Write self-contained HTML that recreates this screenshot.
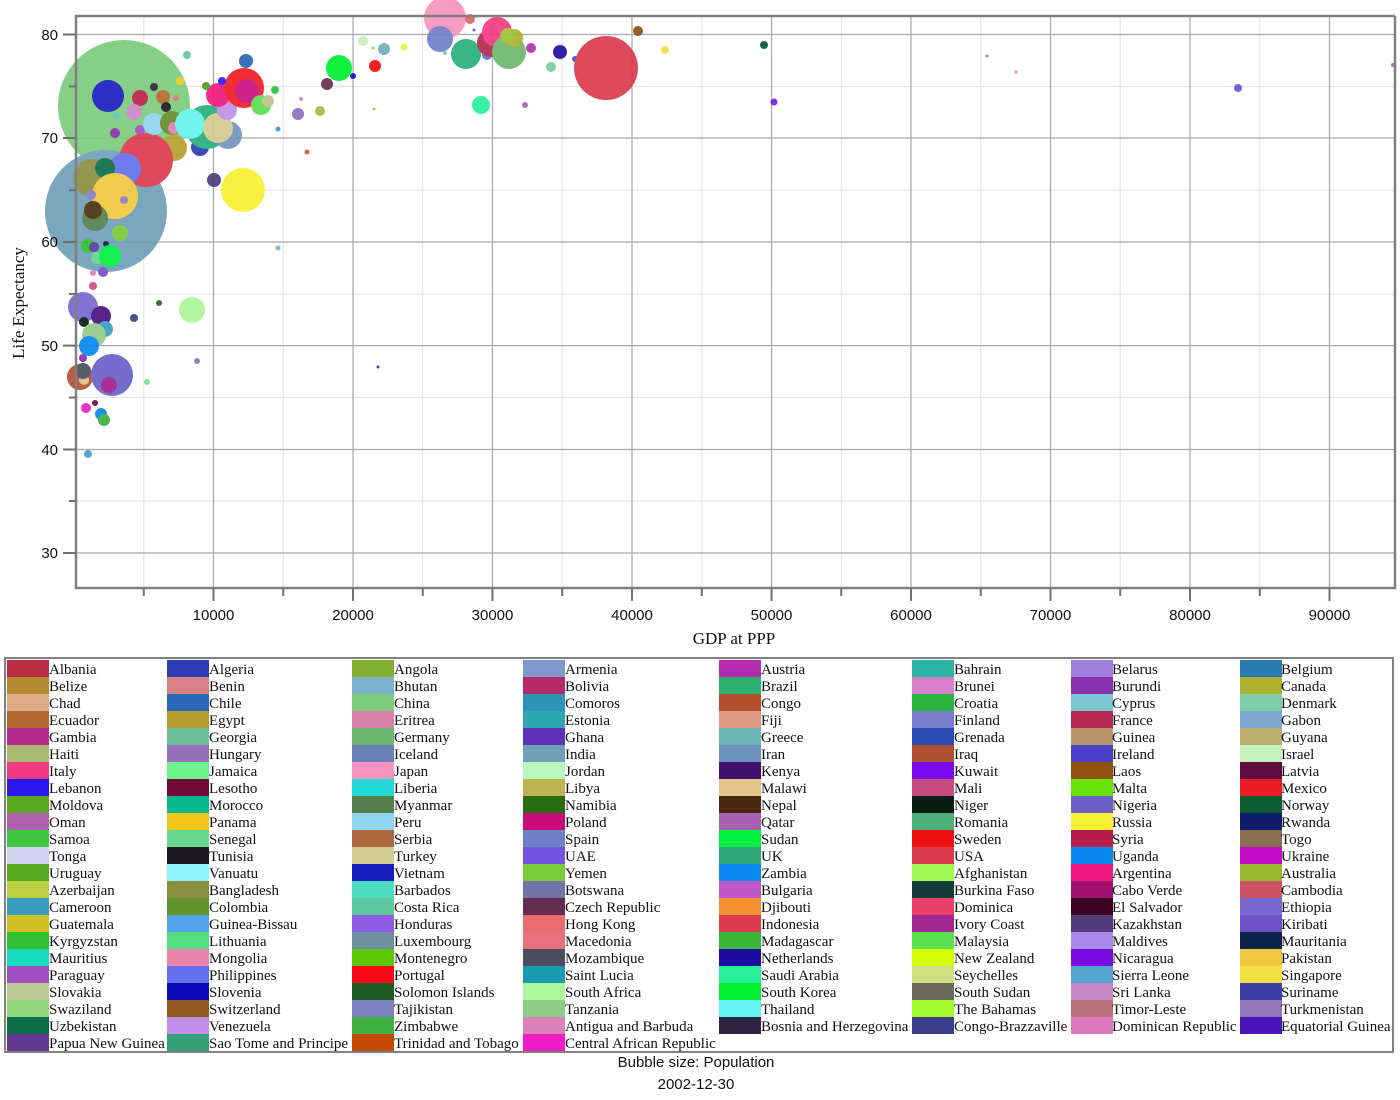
<!DOCTYPE html>
<html><head><meta charset="utf-8"><style>
body{margin:0;background:#fff;width:1400px;height:1100px;overflow:hidden}
svg{display:block}
.t{font-family:"Liberation Sans",sans-serif;font-size:15px;fill:#111}
.l{font-family:"Liberation Serif",serif;font-size:15px;fill:#111}
.a{font-family:"Liberation Serif",serif;font-size:17px;fill:#111}
</style></head><body>
<svg width="1400" height="1100" xmlns="http://www.w3.org/2000/svg">
<g stroke="#e6e6e6" stroke-width="1.2">
<line x1="143.75" y1="16" x2="143.75" y2="588"/><line x1="283.25" y1="16" x2="283.25" y2="588"/><line x1="422.75" y1="16" x2="422.75" y2="588"/><line x1="562.25" y1="16" x2="562.25" y2="588"/><line x1="701.75" y1="16" x2="701.75" y2="588"/><line x1="841.25" y1="16" x2="841.25" y2="588"/><line x1="980.75" y1="16" x2="980.75" y2="588"/><line x1="1120.25" y1="16" x2="1120.25" y2="588"/><line x1="1259.75" y1="16" x2="1259.75" y2="588"/>
<line x1="76" y1="501" x2="1395" y2="501"/><line x1="76" y1="397.5" x2="1395" y2="397.5"/><line x1="76" y1="294" x2="1395" y2="294"/><line x1="76" y1="190" x2="1395" y2="190"/><line x1="76" y1="86.5" x2="1395" y2="86.5"/>
</g>
<g stroke="#a8a8a8" stroke-width="1.2">
<line x1="213.5" y1="16" x2="213.5" y2="588"/><line x1="353" y1="16" x2="353" y2="588"/><line x1="492.5" y1="16" x2="492.5" y2="588"/><line x1="632" y1="16" x2="632" y2="588"/><line x1="771.5" y1="16" x2="771.5" y2="588"/><line x1="911" y1="16" x2="911" y2="588"/><line x1="1050.5" y1="16" x2="1050.5" y2="588"/><line x1="1190" y1="16" x2="1190" y2="588"/><line x1="1329.5" y1="16" x2="1329.5" y2="588"/>
<line x1="76" y1="553" x2="1395" y2="553"/><line x1="76" y1="449.5" x2="1395" y2="449.5"/><line x1="76" y1="345.6" x2="1395" y2="345.6"/><line x1="76" y1="242" x2="1395" y2="242"/><line x1="76" y1="138" x2="1395" y2="138"/><line x1="76" y1="34.5" x2="1395" y2="34.5"/>
</g>
<g opacity="0.92">
<circle cx="124" cy="106" r="66" fill="#7ccc7c"/>
<circle cx="106" cy="211" r="61" fill="#6fa0b8"/>
<circle cx="108" cy="96" r="16" fill="#1a1ec0"/>
<circle cx="140" cy="98" r="8" fill="#c0204c"/>
<circle cx="163" cy="97" r="7" fill="#b46a30"/>
<circle cx="154" cy="87" r="4" fill="#2a2a3a"/>
<circle cx="166" cy="107" r="5" fill="#1e1a24"/>
<circle cx="134" cy="112" r="8" fill="#cc88c8"/>
<circle cx="176" cy="98" r="3" fill="#e07080"/>
<circle cx="180" cy="81" r="4" fill="#f0c820"/>
<circle cx="116" cy="116" r="4" fill="#66c8a8"/>
<circle cx="115" cy="133" r="5" fill="#8830b0"/>
<circle cx="140" cy="130" r="5" fill="#a050c0"/>
<circle cx="174" cy="148" r="13" fill="#b4a030"/>
<circle cx="146" cy="160" r="27" fill="#dc3a4e"/>
<circle cx="154" cy="124" r="11" fill="#90d4f0"/>
<circle cx="172" cy="123" r="12" fill="#658a2a"/>
<circle cx="174" cy="128" r="6" fill="#e080b0"/>
<circle cx="200" cy="147" r="9" fill="#2c3cb4"/>
<circle cx="207" cy="127" r="22" fill="#2ab07a"/>
<circle cx="228" cy="135" r="14" fill="#6f95bc"/>
<circle cx="190" cy="124" r="15" fill="#66f2ee"/>
<circle cx="218" cy="128" r="15" fill="#d4cb92"/>
<circle cx="227" cy="110" r="10" fill="#c090e8"/>
<circle cx="218" cy="95" r="12" fill="#f01880"/>
<circle cx="244" cy="88" r="20" fill="#f01c24"/>
<circle cx="247" cy="91" r="12" fill="#cc1080"/>
<circle cx="92" cy="178" r="19" fill="#8a9040"/>
<circle cx="125" cy="169" r="16" fill="#6470ec"/>
<circle cx="105" cy="168" r="10" fill="#0c6e48"/>
<circle cx="115" cy="196" r="23" fill="#f0c840"/>
<circle cx="124" cy="200" r="4" fill="#9080c0"/>
<circle cx="91" cy="195" r="5" fill="#8080c8"/>
<circle cx="95" cy="218" r="13" fill="#54804e"/>
<circle cx="93" cy="210" r="9" fill="#4a3010"/>
<circle cx="120" cy="233" r="8" fill="#7acc38"/>
<circle cx="88" cy="246" r="7" fill="#30c030"/>
<circle cx="94" cy="247" r="5" fill="#5a3aa0"/>
<circle cx="106" cy="244" r="3" fill="#0c2448"/>
<circle cx="97" cy="258" r="6" fill="#66d488"/>
<circle cx="110" cy="256" r="11" fill="#00f040"/>
<circle cx="103" cy="272" r="5" fill="#7050c8"/>
<circle cx="93" cy="273" r="3" fill="#e080b0"/>
<circle cx="93" cy="286" r="4" fill="#c85080"/>
<circle cx="83" cy="307" r="15" fill="#7868d0"/>
<circle cx="101" cy="316" r="10" fill="#4a1280"/>
<circle cx="84" cy="322" r="5" fill="#0a1e14"/>
<circle cx="105" cy="329" r="8" fill="#38a0c0"/>
<circle cx="94" cy="335" r="12" fill="#90cc88"/>
<circle cx="89" cy="346" r="10" fill="#0a88f0"/>
<circle cx="83" cy="358" r="4" fill="#8830b0"/>
<circle cx="80" cy="377" r="13" fill="#b45030"/>
<circle cx="84" cy="380" r="5" fill="#e0c088"/>
<circle cx="83" cy="371" r="8" fill="#4a5060"/>
<circle cx="112" cy="375" r="21" fill="#6a60c8"/>
<circle cx="109" cy="385" r="8" fill="#a02090"/>
<circle cx="95" cy="403" r="3" fill="#700a38"/>
<circle cx="86" cy="408" r="5" fill="#f01cc8"/>
<circle cx="101" cy="414" r="6" fill="#0a88f0"/>
<circle cx="104" cy="420" r="6" fill="#40b040"/>
<circle cx="88" cy="454" r="4" fill="#50a0d0"/>
<circle cx="147" cy="382" r="3" fill="#80e080"/>
<circle cx="192" cy="310" r="13" fill="#acf59a"/>
<circle cx="159" cy="303" r="3" fill="#2a6a10"/>
<circle cx="134" cy="318" r="4" fill="#404080"/>
<circle cx="197" cy="361" r="3" fill="#8080b0"/>
<circle cx="214" cy="180" r="7" fill="#503c7a"/>
<circle cx="243" cy="190" r="22" fill="#f8f032"/>
<circle cx="187" cy="55" r="4" fill="#66c8a8"/>
<circle cx="246" cy="61" r="7" fill="#2d66b8"/>
<circle cx="206" cy="86" r="4" fill="#4aa018"/>
<circle cx="222" cy="81" r="4" fill="#2020f0"/>
<circle cx="275" cy="90" r="4" fill="#30c040"/>
<circle cx="261" cy="105" r="10" fill="#5ae050"/>
<circle cx="268" cy="101" r="6" fill="#c0c090"/>
<circle cx="278" cy="129" r="2.5" fill="#30a0c0"/>
<circle cx="307" cy="152" r="2.5" fill="#d06020"/>
<circle cx="298" cy="114" r="6" fill="#9070c0"/>
<circle cx="320" cy="111" r="5" fill="#b0b040"/>
<circle cx="327" cy="84" r="6" fill="#6a3050"/>
<circle cx="339" cy="68" r="13" fill="#00f030"/>
<circle cx="353" cy="76" r="3" fill="#1010c0"/>
<circle cx="363" cy="41" r="5" fill="#c8f0b8"/>
<circle cx="375" cy="66" r="6" fill="#f01010"/>
<circle cx="384" cy="49" r="6" fill="#6fb0b8"/>
<circle cx="404" cy="47" r="3.5" fill="#e8f040"/>
<circle cx="373" cy="48" r="1.5" fill="#80e020"/>
<circle cx="374" cy="109" r="1.5" fill="#80e020"/>
<circle cx="301" cy="99" r="2" fill="#e080c0"/>
<circle cx="278" cy="248" r="2.5" fill="#80b0d8"/>
<circle cx="378" cy="367" r="1.5" fill="#3030c0"/>
<circle cx="445" cy="18" r="21" fill="#f894c0"/>
<circle cx="470" cy="19" r="5" fill="#e86060"/>
<circle cx="474" cy="30" r="1.5" fill="#5060c0"/>
<circle cx="440" cy="39" r="13" fill="#7080c8"/>
<circle cx="445" cy="53" r="2" fill="#80c0d0"/>
<circle cx="466" cy="54" r="15" fill="#2ab07a"/>
<circle cx="487" cy="55" r="5" fill="#6070d0"/>
<circle cx="491" cy="43" r="14" fill="#b42a50"/>
<circle cx="497" cy="32" r="15" fill="#f53a82"/>
<circle cx="509" cy="52" r="17" fill="#6fb870"/>
<circle cx="514" cy="38" r="9" fill="#b0b030"/>
<circle cx="508" cy="36" r="8" fill="#a0c030"/>
<circle cx="531" cy="48" r="5" fill="#b030b0"/>
<circle cx="560" cy="52" r="7" fill="#2010a0"/>
<circle cx="551" cy="67" r="5" fill="#7ccca0"/>
<circle cx="575" cy="59" r="3" fill="#4050d0"/>
<circle cx="606" cy="68" r="32" fill="#dc3a4e"/>
<circle cx="638" cy="31" r="5" fill="#8a5018"/>
<circle cx="665" cy="50" r="4" fill="#f0e040"/>
<circle cx="481" cy="105" r="9" fill="#28f09a"/>
<circle cx="525" cy="105" r="3" fill="#b060b8"/>
<circle cx="764" cy="45" r="4" fill="#0a5a30"/>
<circle cx="774" cy="102" r="3.5" fill="#7020f0"/>
<circle cx="987" cy="56" r="1.5" fill="#6090a0"/>
<circle cx="1016" cy="72" r="1.5" fill="#e080d0"/>
<circle cx="1238" cy="88" r="4" fill="#7050e0"/>
<circle cx="1393" cy="65" r="2" fill="#b060b8"/>
</g>
<g stroke="#808080" stroke-width="2.5" fill="none">
<polyline points="1395,16 76,16 76,588 1395,588 1395,16"/>
</g>
<g stroke="#707070" stroke-width="2">
<line x1="63" y1="553" x2="76" y2="553"/><line x1="63" y1="449.5" x2="76" y2="449.5"/><line x1="63" y1="345.6" x2="76" y2="345.6"/><line x1="63" y1="242" x2="76" y2="242"/><line x1="63" y1="138" x2="76" y2="138"/><line x1="63" y1="34.5" x2="76" y2="34.5"/>
<line x1="69" y1="501" x2="76" y2="501"/><line x1="69" y1="397.5" x2="76" y2="397.5"/><line x1="69" y1="294" x2="76" y2="294"/><line x1="69" y1="190" x2="76" y2="190"/><line x1="69" y1="86.5" x2="76" y2="86.5"/>
<line x1="213.5" y1="588" x2="213.5" y2="601"/><line x1="353" y1="588" x2="353" y2="601"/><line x1="492.5" y1="588" x2="492.5" y2="601"/><line x1="632" y1="588" x2="632" y2="601"/><line x1="771.5" y1="588" x2="771.5" y2="601"/><line x1="911" y1="588" x2="911" y2="601"/><line x1="1050.5" y1="588" x2="1050.5" y2="601"/><line x1="1190" y1="588" x2="1190" y2="601"/><line x1="1329.5" y1="588" x2="1329.5" y2="601"/>
<line x1="143.75" y1="588" x2="143.75" y2="596"/><line x1="283.25" y1="588" x2="283.25" y2="596"/><line x1="422.75" y1="588" x2="422.75" y2="596"/><line x1="562.25" y1="588" x2="562.25" y2="596"/><line x1="701.75" y1="588" x2="701.75" y2="596"/><line x1="841.25" y1="588" x2="841.25" y2="596"/><line x1="980.75" y1="588" x2="980.75" y2="596"/><line x1="1120.25" y1="588" x2="1120.25" y2="596"/><line x1="1259.75" y1="588" x2="1259.75" y2="596"/>
</g>
<g class="t" text-anchor="end">
<text x="58" y="558">30</text><text x="58" y="455">40</text><text x="58" y="351">50</text><text x="58" y="247">60</text><text x="58" y="143">70</text><text x="58" y="40">80</text>
</g>
<g class="t" text-anchor="middle">
<text x="213.5" y="620">10000</text><text x="353" y="620">20000</text><text x="492.5" y="620">30000</text><text x="632" y="620">40000</text><text x="771.5" y="620">50000</text><text x="911" y="620">60000</text><text x="1050.5" y="620">70000</text><text x="1190" y="620">80000</text><text x="1329.5" y="620">90000</text>
<text x="696" y="1067">Bubble size: Population</text>
<text x="696" y="1089">2002-12-30</text>
</g>
<text class="a" x="734" y="644" text-anchor="middle">GDP at PPP</text>
<text class="a" x="0" y="0" text-anchor="middle" transform="translate(24,303) rotate(-90)">Life Expectancy</text>
<rect x="5" y="658" width="1388" height="394" fill="none" stroke="#808080" stroke-width="2"/>
<g>
<rect x="7" y="660" width="42" height="17" fill="#b82d42"/><rect x="7" y="677" width="42" height="17" fill="#b48a30"/><rect x="7" y="694" width="42" height="17" fill="#dcaa84"/><rect x="7" y="711" width="42" height="17" fill="#b46a30"/><rect x="7" y="728" width="42" height="17" fill="#b42a8a"/><rect x="7" y="745" width="42" height="17" fill="#aab870"/><rect x="7" y="762" width="42" height="17" fill="#f23a82"/><rect x="7" y="779" width="42" height="17" fill="#2a1af0"/><rect x="7" y="796" width="42" height="17" fill="#58a820"/><rect x="7" y="813" width="42" height="17" fill="#b060b0"/><rect x="7" y="830" width="42" height="17" fill="#3ec840"/><rect x="7" y="847" width="42" height="17" fill="#d0d4f0"/><rect x="7" y="864" width="42" height="17" fill="#58a820"/><rect x="7" y="881" width="42" height="17" fill="#bcd040"/><rect x="7" y="898" width="42" height="17" fill="#389cc0"/><rect x="7" y="915" width="42" height="17" fill="#d0c020"/><rect x="7" y="932" width="42" height="17" fill="#30c030"/><rect x="7" y="949" width="42" height="17" fill="#18dcc0"/><rect x="7" y="966" width="42" height="17" fill="#a050c0"/><rect x="7" y="983" width="42" height="17" fill="#bcc898"/><rect x="7" y="1000" width="42" height="17" fill="#90d47a"/><rect x="7" y="1017" width="42" height="17" fill="#0c6e48"/><rect x="7" y="1034" width="42" height="17" fill="#603890"/>
<rect x="167" y="660" width="42" height="17" fill="#2c3cb4"/><rect x="167" y="677" width="42" height="17" fill="#d88088"/><rect x="167" y="694" width="42" height="17" fill="#2c68b8"/><rect x="167" y="711" width="42" height="17" fill="#b49c2c"/><rect x="167" y="728" width="42" height="17" fill="#6cbc98"/><rect x="167" y="745" width="42" height="17" fill="#9670b8"/><rect x="167" y="762" width="42" height="17" fill="#6cf48c"/><rect x="167" y="779" width="42" height="17" fill="#700a38"/><rect x="167" y="796" width="42" height="17" fill="#0ab890"/><rect x="167" y="813" width="42" height="17" fill="#f4c818"/><rect x="167" y="830" width="42" height="17" fill="#68d88c"/><rect x="167" y="847" width="42" height="17" fill="#1e1a24"/><rect x="167" y="864" width="42" height="17" fill="#90f4fc"/><rect x="167" y="881" width="42" height="17" fill="#8a9040"/><rect x="167" y="898" width="42" height="17" fill="#62922a"/><rect x="167" y="915" width="42" height="17" fill="#54a4ec"/><rect x="167" y="932" width="42" height="17" fill="#54e080"/><rect x="167" y="949" width="42" height="17" fill="#ea84a8"/><rect x="167" y="966" width="42" height="17" fill="#6470ec"/><rect x="167" y="983" width="42" height="17" fill="#0c0cbc"/><rect x="167" y="1000" width="42" height="17" fill="#905820"/><rect x="167" y="1017" width="42" height="17" fill="#c090e8"/><rect x="167" y="1034" width="42" height="17" fill="#34a078"/>
<rect x="352" y="660" width="42" height="17" fill="#82b030"/><rect x="352" y="677" width="42" height="17" fill="#7cb4d0"/><rect x="352" y="694" width="42" height="17" fill="#7ccc7c"/><rect x="352" y="711" width="42" height="17" fill="#d880a8"/><rect x="352" y="728" width="42" height="17" fill="#6cb870"/><rect x="352" y="745" width="42" height="17" fill="#6c80b8"/><rect x="352" y="762" width="42" height="17" fill="#f894c0"/><rect x="352" y="779" width="42" height="17" fill="#24d8d8"/><rect x="352" y="796" width="42" height="17" fill="#54804e"/><rect x="352" y="813" width="42" height="17" fill="#90d4f0"/><rect x="352" y="830" width="42" height="17" fill="#b06a40"/><rect x="352" y="847" width="42" height="17" fill="#d4cc92"/><rect x="352" y="864" width="42" height="17" fill="#1a1ec0"/><rect x="352" y="881" width="42" height="17" fill="#4cdcc0"/><rect x="352" y="898" width="42" height="17" fill="#5cc8a0"/><rect x="352" y="915" width="42" height="17" fill="#905ce4"/><rect x="352" y="932" width="42" height="17" fill="#6c90a0"/><rect x="352" y="949" width="42" height="17" fill="#5cc800"/><rect x="352" y="966" width="42" height="17" fill="#fc0818"/><rect x="352" y="983" width="42" height="17" fill="#1c5c24"/><rect x="352" y="1000" width="42" height="17" fill="#7c80c0"/><rect x="352" y="1017" width="42" height="17" fill="#40b040"/><rect x="352" y="1034" width="42" height="17" fill="#c44a04"/>
<rect x="523" y="660" width="42" height="17" fill="#7c98cc"/><rect x="523" y="677" width="42" height="17" fill="#b42a68"/><rect x="523" y="694" width="42" height="17" fill="#2c94b4"/><rect x="523" y="711" width="42" height="17" fill="#2ca8b4"/><rect x="523" y="728" width="42" height="17" fill="#6030b8"/><rect x="523" y="745" width="42" height="17" fill="#70a0b8"/><rect x="523" y="762" width="42" height="17" fill="#b8f8bc"/><rect x="523" y="779" width="42" height="17" fill="#bcb450"/><rect x="523" y="796" width="42" height="17" fill="#286c10"/><rect x="523" y="813" width="42" height="17" fill="#c80c78"/><rect x="523" y="830" width="42" height="17" fill="#7080c8"/><rect x="523" y="847" width="42" height="17" fill="#7454e0"/><rect x="523" y="864" width="42" height="17" fill="#7ccc38"/><rect x="523" y="881" width="42" height="17" fill="#7474a8"/><rect x="523" y="898" width="42" height="17" fill="#682c50"/><rect x="523" y="915" width="42" height="17" fill="#ea6c6c"/><rect x="523" y="932" width="42" height="17" fill="#ea7080"/><rect x="523" y="949" width="42" height="17" fill="#4a4c60"/><rect x="523" y="966" width="42" height="17" fill="#189cb0"/><rect x="523" y="983" width="42" height="17" fill="#acf89c"/><rect x="523" y="1000" width="42" height="17" fill="#90cc88"/><rect x="523" y="1017" width="42" height="17" fill="#dc80bc"/><rect x="523" y="1034" width="42" height="17" fill="#f01cc8"/>
<rect x="719" y="660" width="42" height="17" fill="#b42cb0"/><rect x="719" y="677" width="42" height="17" fill="#2cb070"/><rect x="719" y="694" width="42" height="17" fill="#b45030"/><rect x="719" y="711" width="42" height="17" fill="#dc9880"/><rect x="719" y="728" width="42" height="17" fill="#6cb4b8"/><rect x="719" y="745" width="42" height="17" fill="#6c94bc"/><rect x="719" y="762" width="42" height="17" fill="#401070"/><rect x="719" y="779" width="42" height="17" fill="#e4c488"/><rect x="719" y="796" width="42" height="17" fill="#4a2810"/><rect x="719" y="813" width="42" height="17" fill="#a860b0"/><rect x="719" y="830" width="42" height="17" fill="#00f040"/><rect x="719" y="847" width="42" height="17" fill="#2ca878"/><rect x="719" y="864" width="42" height="17" fill="#0c88f0"/><rect x="719" y="881" width="42" height="17" fill="#c058c8"/><rect x="719" y="898" width="42" height="17" fill="#f49030"/><rect x="719" y="915" width="42" height="17" fill="#dc3a4e"/><rect x="719" y="932" width="42" height="17" fill="#3cb838"/><rect x="719" y="949" width="42" height="17" fill="#1c0ca0"/><rect x="719" y="966" width="42" height="17" fill="#28f09a"/><rect x="719" y="983" width="42" height="17" fill="#00f030"/><rect x="719" y="1000" width="42" height="17" fill="#66f4f0"/><rect x="719" y="1017" width="42" height="17" fill="#2c2440"/>
<rect x="912" y="660" width="42" height="17" fill="#2cb4a4"/><rect x="912" y="677" width="42" height="17" fill="#d880cc"/><rect x="912" y="694" width="42" height="17" fill="#2cb440"/><rect x="912" y="711" width="42" height="17" fill="#7c7ccc"/><rect x="912" y="728" width="42" height="17" fill="#2c4cb4"/><rect x="912" y="745" width="42" height="17" fill="#b05030"/><rect x="912" y="762" width="42" height="17" fill="#7c0cf0"/><rect x="912" y="779" width="42" height="17" fill="#c84c80"/><rect x="912" y="796" width="42" height="17" fill="#0a1e14"/><rect x="912" y="813" width="42" height="17" fill="#4cb07c"/><rect x="912" y="830" width="42" height="17" fill="#ec1010"/><rect x="912" y="847" width="42" height="17" fill="#dc3a4e"/><rect x="912" y="864" width="42" height="17" fill="#a0f850"/><rect x="912" y="881" width="42" height="17" fill="#143c38"/><rect x="912" y="898" width="42" height="17" fill="#e84068"/><rect x="912" y="915" width="42" height="17" fill="#a02890"/><rect x="912" y="932" width="42" height="17" fill="#5ce050"/><rect x="912" y="949" width="42" height="17" fill="#d4fc04"/><rect x="912" y="966" width="42" height="17" fill="#d0e080"/><rect x="912" y="983" width="42" height="17" fill="#6c6c5c"/><rect x="912" y="1000" width="42" height="17" fill="#a0fc2c"/><rect x="912" y="1017" width="42" height="17" fill="#3c3c8c"/>
<rect x="1071" y="660" width="42" height="17" fill="#a080dc"/><rect x="1071" y="677" width="42" height="17" fill="#8830b0"/><rect x="1071" y="694" width="42" height="17" fill="#7cc8d0"/><rect x="1071" y="711" width="42" height="17" fill="#b42a50"/><rect x="1071" y="728" width="42" height="17" fill="#b8946c"/><rect x="1071" y="745" width="42" height="17" fill="#4c40c8"/><rect x="1071" y="762" width="42" height="17" fill="#905410"/><rect x="1071" y="779" width="42" height="17" fill="#68e40c"/><rect x="1071" y="796" width="42" height="17" fill="#6a60c8"/><rect x="1071" y="813" width="42" height="17" fill="#f8f032"/><rect x="1071" y="830" width="42" height="17" fill="#b81c48"/><rect x="1071" y="847" width="42" height="17" fill="#0a88f0"/><rect x="1071" y="864" width="42" height="17" fill="#f01880"/><rect x="1071" y="881" width="42" height="17" fill="#a01070"/><rect x="1071" y="898" width="42" height="17" fill="#3c0420"/><rect x="1071" y="915" width="42" height="17" fill="#503c7c"/><rect x="1071" y="932" width="42" height="17" fill="#a888e8"/><rect x="1071" y="949" width="42" height="17" fill="#780ce0"/><rect x="1071" y="966" width="42" height="17" fill="#54a4d0"/><rect x="1071" y="983" width="42" height="17" fill="#c888c8"/><rect x="1071" y="1000" width="42" height="17" fill="#b87078"/><rect x="1071" y="1017" width="42" height="17" fill="#dc78c0"/>
<rect x="1240" y="660" width="42" height="17" fill="#2c7cb4"/><rect x="1240" y="677" width="42" height="17" fill="#b0b030"/><rect x="1240" y="694" width="42" height="17" fill="#7cd0a8"/><rect x="1240" y="711" width="42" height="17" fill="#7ca8d0"/><rect x="1240" y="728" width="42" height="17" fill="#bcac70"/><rect x="1240" y="745" width="42" height="17" fill="#c4f4bc"/><rect x="1240" y="762" width="42" height="17" fill="#600c40"/><rect x="1240" y="779" width="42" height="17" fill="#ec1c24"/><rect x="1240" y="796" width="42" height="17" fill="#0c5c30"/><rect x="1240" y="813" width="42" height="17" fill="#101c6c"/><rect x="1240" y="830" width="42" height="17" fill="#8a7050"/><rect x="1240" y="847" width="42" height="17" fill="#c40cc8"/><rect x="1240" y="864" width="42" height="17" fill="#98b830"/><rect x="1240" y="881" width="42" height="17" fill="#cc5464"/><rect x="1240" y="898" width="42" height="17" fill="#7868d0"/><rect x="1240" y="915" width="42" height="17" fill="#7050c8"/><rect x="1240" y="932" width="42" height="17" fill="#0c2448"/><rect x="1240" y="949" width="42" height="17" fill="#f0c840"/><rect x="1240" y="966" width="42" height="17" fill="#f0e040"/><rect x="1240" y="983" width="42" height="17" fill="#3c40a8"/><rect x="1240" y="1000" width="42" height="17" fill="#9078b8"/><rect x="1240" y="1017" width="42" height="17" fill="#4c14b8"/>
</g>
<g class="l">
<text x="49" y="674">Albania</text><text x="49" y="691">Belize</text><text x="49" y="708">Chad</text><text x="49" y="725">Ecuador</text><text x="49" y="742">Gambia</text><text x="49" y="759">Haiti</text><text x="49" y="776">Italy</text><text x="49" y="793">Lebanon</text><text x="49" y="810">Moldova</text><text x="49" y="827">Oman</text><text x="49" y="844">Samoa</text><text x="49" y="861">Tonga</text><text x="49" y="878">Uruguay</text><text x="49" y="895">Azerbaijan</text><text x="49" y="912">Cameroon</text><text x="49" y="929">Guatemala</text><text x="49" y="946">Kyrgyzstan</text><text x="49" y="963">Mauritius</text><text x="49" y="980">Paraguay</text><text x="49" y="997">Slovakia</text><text x="49" y="1014">Swaziland</text><text x="49" y="1031">Uzbekistan</text><text x="49" y="1048">Papua New Guinea</text>
<text x="209" y="674">Algeria</text><text x="209" y="691">Benin</text><text x="209" y="708">Chile</text><text x="209" y="725">Egypt</text><text x="209" y="742">Georgia</text><text x="209" y="759">Hungary</text><text x="209" y="776">Jamaica</text><text x="209" y="793">Lesotho</text><text x="209" y="810">Morocco</text><text x="209" y="827">Panama</text><text x="209" y="844">Senegal</text><text x="209" y="861">Tunisia</text><text x="209" y="878">Vanuatu</text><text x="209" y="895">Bangladesh</text><text x="209" y="912">Colombia</text><text x="209" y="929">Guinea-Bissau</text><text x="209" y="946">Lithuania</text><text x="209" y="963">Mongolia</text><text x="209" y="980">Philippines</text><text x="209" y="997">Slovenia</text><text x="209" y="1014">Switzerland</text><text x="209" y="1031">Venezuela</text><text x="209" y="1048">Sao Tome and Principe</text>
<text x="394" y="674">Angola</text><text x="394" y="691">Bhutan</text><text x="394" y="708">China</text><text x="394" y="725">Eritrea</text><text x="394" y="742">Germany</text><text x="394" y="759">Iceland</text><text x="394" y="776">Japan</text><text x="394" y="793">Liberia</text><text x="394" y="810">Myanmar</text><text x="394" y="827">Peru</text><text x="394" y="844">Serbia</text><text x="394" y="861">Turkey</text><text x="394" y="878">Vietnam</text><text x="394" y="895">Barbados</text><text x="394" y="912">Costa Rica</text><text x="394" y="929">Honduras</text><text x="394" y="946">Luxembourg</text><text x="394" y="963">Montenegro</text><text x="394" y="980">Portugal</text><text x="394" y="997">Solomon Islands</text><text x="394" y="1014">Tajikistan</text><text x="394" y="1031">Zimbabwe</text><text x="394" y="1048">Trinidad and Tobago</text>
<text x="565" y="674">Armenia</text><text x="565" y="691">Bolivia</text><text x="565" y="708">Comoros</text><text x="565" y="725">Estonia</text><text x="565" y="742">Ghana</text><text x="565" y="759">India</text><text x="565" y="776">Jordan</text><text x="565" y="793">Libya</text><text x="565" y="810">Namibia</text><text x="565" y="827">Poland</text><text x="565" y="844">Spain</text><text x="565" y="861">UAE</text><text x="565" y="878">Yemen</text><text x="565" y="895">Botswana</text><text x="565" y="912">Czech Republic</text><text x="565" y="929">Hong Kong</text><text x="565" y="946">Macedonia</text><text x="565" y="963">Mozambique</text><text x="565" y="980">Saint Lucia</text><text x="565" y="997">South Africa</text><text x="565" y="1014">Tanzania</text><text x="565" y="1031">Antigua and Barbuda</text><text x="565" y="1048">Central African Republic</text>
<text x="761" y="674">Austria</text><text x="761" y="691">Brazil</text><text x="761" y="708">Congo</text><text x="761" y="725">Fiji</text><text x="761" y="742">Greece</text><text x="761" y="759">Iran</text><text x="761" y="776">Kenya</text><text x="761" y="793">Malawi</text><text x="761" y="810">Nepal</text><text x="761" y="827">Qatar</text><text x="761" y="844">Sudan</text><text x="761" y="861">UK</text><text x="761" y="878">Zambia</text><text x="761" y="895">Bulgaria</text><text x="761" y="912">Djibouti</text><text x="761" y="929">Indonesia</text><text x="761" y="946">Madagascar</text><text x="761" y="963">Netherlands</text><text x="761" y="980">Saudi Arabia</text><text x="761" y="997">South Korea</text><text x="761" y="1014">Thailand</text><text x="761" y="1031">Bosnia and Herzegovina</text>
<text x="954" y="674">Bahrain</text><text x="954" y="691">Brunei</text><text x="954" y="708">Croatia</text><text x="954" y="725">Finland</text><text x="954" y="742">Grenada</text><text x="954" y="759">Iraq</text><text x="954" y="776">Kuwait</text><text x="954" y="793">Mali</text><text x="954" y="810">Niger</text><text x="954" y="827">Romania</text><text x="954" y="844">Sweden</text><text x="954" y="861">USA</text><text x="954" y="878">Afghanistan</text><text x="954" y="895">Burkina Faso</text><text x="954" y="912">Dominica</text><text x="954" y="929">Ivory Coast</text><text x="954" y="946">Malaysia</text><text x="954" y="963">New Zealand</text><text x="954" y="980">Seychelles</text><text x="954" y="997">South Sudan</text><text x="954" y="1014">The Bahamas</text><text x="954" y="1031">Congo-Brazzaville</text>
<text x="1112" y="674">Belarus</text><text x="1112" y="691">Burundi</text><text x="1112" y="708">Cyprus</text><text x="1112" y="725">France</text><text x="1112" y="742">Guinea</text><text x="1112" y="759">Ireland</text><text x="1112" y="776">Laos</text><text x="1112" y="793">Malta</text><text x="1112" y="810">Nigeria</text><text x="1112" y="827">Russia</text><text x="1112" y="844">Syria</text><text x="1112" y="861">Uganda</text><text x="1112" y="878">Argentina</text><text x="1112" y="895">Cabo Verde</text><text x="1112" y="912">El Salvador</text><text x="1112" y="929">Kazakhstan</text><text x="1112" y="946">Maldives</text><text x="1112" y="963">Nicaragua</text><text x="1112" y="980">Sierra Leone</text><text x="1112" y="997">Sri Lanka</text><text x="1112" y="1014">Timor-Leste</text><text x="1112" y="1031">Dominican Republic</text>
<text x="1281" y="674">Belgium</text><text x="1281" y="691">Canada</text><text x="1281" y="708">Denmark</text><text x="1281" y="725">Gabon</text><text x="1281" y="742">Guyana</text><text x="1281" y="759">Israel</text><text x="1281" y="776">Latvia</text><text x="1281" y="793">Mexico</text><text x="1281" y="810">Norway</text><text x="1281" y="827">Rwanda</text><text x="1281" y="844">Togo</text><text x="1281" y="861">Ukraine</text><text x="1281" y="878">Australia</text><text x="1281" y="895">Cambodia</text><text x="1281" y="912">Ethiopia</text><text x="1281" y="929">Kiribati</text><text x="1281" y="946">Mauritania</text><text x="1281" y="963">Pakistan</text><text x="1281" y="980">Singapore</text><text x="1281" y="997">Suriname</text><text x="1281" y="1014">Turkmenistan</text><text x="1281" y="1031">Equatorial Guinea</text>
</g>
</svg>
</body></html>
